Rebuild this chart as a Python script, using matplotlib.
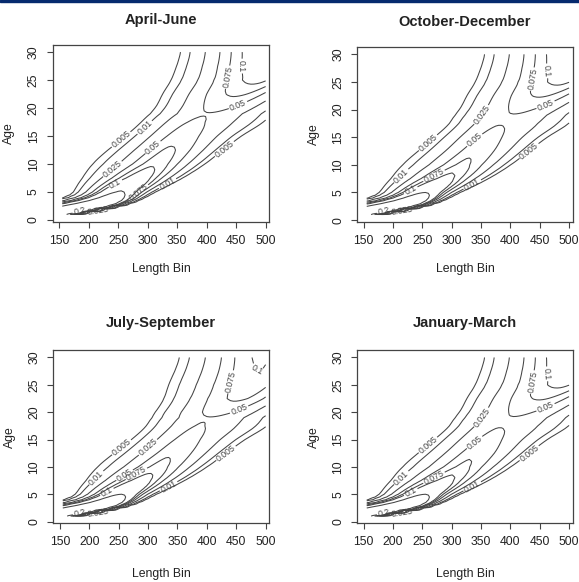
import matplotlib
matplotlib.use("Agg")
import matplotlib.pyplot as plt
import numpy as np

plt.rcParams["font.family"] = ["Liberation Sans", "DejaVu Sans"]

# panel titles, in drawing order (row by row)
seasons = ["April-June", "October-December", "July-September", "January-March"]

# grid the key is drawn on: length bins (x) and ages (y)
length_bins = np.arange(155, 500.1, 5)
ages = np.arange(1, 30.01, 0.5)

# for each age: length where the key peaks, its spread (and tail shape) on the
# short and long side, and the peak value -- at these ages
age_knots = [1, 1.5, 2, 2.5, 3, 3.5, 4, 5, 7.5, 10, 12.5, 15, 17.5, 19, 20, 22.5, 25, 27.5, 30]
sd_short = [50, 55, 60, 55, 40, 27, 25, 25.8, 29.4, 29.6, 31, 33.2, 37.1, 43.6, 47.5, 54, 60, 59, 57]
tail_short = [2, 2, 2, 2, 2, 2, 2, 1.8, 1.6, 1.4, 1.45, 1.6, 1.8, 1.9, 2, 2, 2, 2, 2]
sd_long = [9, 10, 10, 11, 13, 16, 18, 22, 30, 36, 40, 46, 55, 52, 48, 44, 38, 36, 35]

peak_len = {
    "April-June":       [140, 170, 200, 225, 235, 240, 244, 252, 283, 310, 333, 354, 378, 400, 418, 452, 489, 499, 502],
    "October-December": [140, 170, 200, 225, 235, 240, 244, 254, 288, 316, 340, 360, 384, 401, 418, 452, 489, 499, 502],
    "July-September":   [140, 170, 200, 225, 235, 240, 244, 254, 287, 315, 340, 362, 386, 402, 418, 455, 480, 490, 495],
    "January-March":    [140, 170, 200, 225, 235, 240, 244, 254, 288, 316, 340, 360, 384, 401, 418, 452, 489, 499, 502],
}
peak_val = {
    "April-June":       [0.30, 0.40, 0.42, 0.45, 0.42, 0.36, 0.30, 0.21, 0.130, 0.095, 0.080, 0.064, 0.053, 0.049, 0.056, 0.080, 0.110, 0.125, 0.130],
    "October-December": [0.30, 0.40, 0.42, 0.45, 0.42, 0.36, 0.30, 0.20, 0.115, 0.082, 0.069, 0.058, 0.049, 0.049, 0.055, 0.078, 0.108, 0.122, 0.128],
    "July-September":   [0.30, 0.40, 0.42, 0.45, 0.42, 0.36, 0.30, 0.20, 0.120, 0.086, 0.071, 0.059, 0.051, 0.049, 0.058, 0.080, 0.095, 0.100, 0.105],
    "January-March":    [0.30, 0.40, 0.42, 0.45, 0.42, 0.36, 0.30, 0.20, 0.115, 0.082, 0.070, 0.058, 0.049, 0.049, 0.055, 0.078, 0.108, 0.122, 0.128],
}

levels = [0.005, 0.01, 0.025, 0.05, 0.075, 0.1, 0.2]

# axes boxes in figure fractions (left, bottom, width, height)
boxes = [
    (0.091, 0.619, 0.374, 0.304),
    (0.617, 0.619, 0.372, 0.300),
    (0.092, 0.101, 0.373, 0.297),
    (0.617, 0.101, 0.372, 0.297),
]
title_pads = [15, 15, 17, 17]
xlabel_pads = [12, 12, 14, 14]

line_col = "#444444"
text_col = "#222222"


def soften(knots, vals, x, width=0.8):
    # piecewise line through the knots, softened a little so contours bend smoothly
    fine = np.arange(-2, 33.01, 0.05)
    y = np.interp(fine, knots, vals)
    n = int(3 * width / 0.05)
    k = np.exp(-0.5 * (np.arange(-n, n + 1) * 0.05 / width) ** 2)
    y = np.convolve(np.pad(y, n, mode="edge"), k / k.sum(), mode="valid")
    return np.interp(x, fine, y)


fig = plt.figure(figsize=(5.79, 5.82), dpi=100)
# dark blue strip along the top edge
fig.patches.append(plt.Rectangle((0, 0.9965), 1, 0.0035, transform=fig.transFigure,
                                 color="#062a6e", zorder=5))

LL, AA = np.meshgrid(length_bins, ages)
for season, box, tpad, xpad in zip(seasons, boxes, title_pads, xlabel_pads):
    ax = fig.add_axes(box)
    mu = soften(age_knots, peak_len[season], AA, 0.6)
    pk = np.exp(np.interp(AA, age_knots, np.log(peak_val[season])))
    short = LL < mu
    sd = np.where(short, soften(age_knots, sd_short, AA), soften(age_knots, sd_long, AA, 0.6))
    tail = np.where(short, soften(age_knots, tail_short, AA), 2.0)
    z = pk * np.exp(-0.5 * (np.abs(LL - mu) / sd) ** tail)

    cs = ax.contour(LL, AA, z, levels=levels, colors=line_col, linewidths=0.75)
    ax.clabel(cs, fmt="%g", fontsize=6.3, inline=True, inline_spacing=2, colors=line_col)

    ax.set_xlim(138.8, 506.1)
    ax.set_ylim(-0.3, 31.3)
    ax.set_xticks(range(150, 501, 50))
    ax.set_yticks(range(0, 31, 5))
    ax.tick_params(labelsize=8.8, length=4.3, width=0.8, color=line_col, labelcolor=text_col, pad=5)
    for lab in ax.get_yticklabels():
        lab.set_rotation(90)
        lab.set_va("center")
    for sp in ax.spines.values():
        sp.set_color(line_col)
        sp.set_linewidth(0.9)
    ax.set_xlabel("Length Bin", fontsize=8.8, color=text_col, labelpad=xpad)
    ax.set_ylabel("Age", fontsize=8.8, color=text_col, labelpad=9)
    ax.set_title(season, fontsize=10.5, fontweight="bold", color=text_col, pad=tpad)

fig.savefig("out.png", dpi=100)
